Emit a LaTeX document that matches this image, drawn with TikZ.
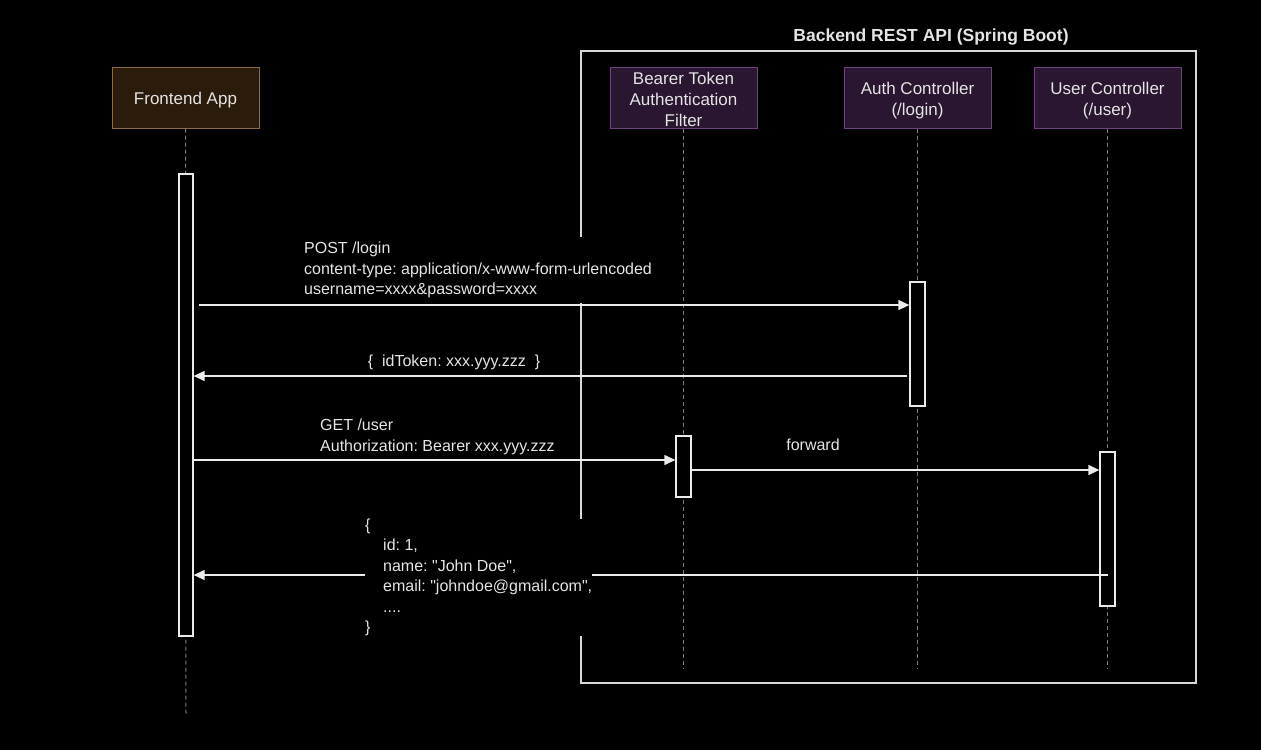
\documentclass[tikz,border=0pt]{standalone}
\usepackage{fontspec}
\setmainfont{Liberation Sans}
\usetikzlibrary{arrows.meta,calc}
\definecolor{txt}{RGB}{228,228,228}
\definecolor{linec}{RGB}{235,235,235}
\definecolor{framec}{RGB}{215,215,215}
\definecolor{lifec}{RGB}{120,125,150}
\definecolor{fefill}{RGB}{42,27,10}
\definecolor{fedraw}{RGB}{140,108,66}
\definecolor{befill}{RGB}{42,22,48}
\definecolor{bedraw}{RGB}{110,66,122}
\newcommand{\lblfont}{\fontsize{16}{20.5}\selectfont}
\newcommand{\boxfont}{\fontsize{17}{21}\selectfont}
\frenchspacing
\begin{document}
\begin{tikzpicture}[x=1pt,y=-1pt,
  participant/.style={rectangle, minimum width=147pt, minimum height=61pt, inner sep=0pt,
    line width=1pt},
  ptext/.style={text=txt, font=\boxfont, align=center, inner sep=0pt},
  fepart/.style={participant, fill=fefill, draw=fedraw},
  bepart/.style={participant, fill=befill, draw=bedraw},
  lifeline/.style={draw=lifec, line width=1pt, dash pattern=on 4pt off 3pt},
  actbox/.style={rectangle, draw=linec, fill=black, line width=1.3pt, inner sep=0pt, minimum width=14pt},
  msg/.style={draw=linec, line width=1.3pt, -{Triangle[length=11pt,width=10pt]}},
  lbl/.style={text=txt, font=\lblfont, align=left, fill=black, inner xsep=0pt},
  frame/.style={rectangle, draw=framec, line width=1.4pt, inner sep=0pt},
]
% background
\fill[black] (0,0) rectangle (1261,750);
\useasboundingbox (0,0) rectangle (1261,750);

% frame
\node[frame, minimum width=615pt, minimum height=632pt] (api) at (888.5,367) {};
\node[text=txt, font=\bfseries\fontsize{17.5}{20}\selectfont] (apititle) at (931,37) {Backend REST API (Spring Boot)};

% participants
\node[fepart] (fe) at (185.5,97.5) {};
\node[ptext] (fetext) at ([yshift=-3pt]fe.center) {Frontend App};
\node[bepart] (bt) at (683.5,97.5) {};
\node[ptext] (bttext) at ([yshift=-1.5pt]bt.center) {Bearer Token\\Authentication\\Filter};
\node[bepart] (ac) at (917.5,97.5) {};
\node[ptext] (actext) at ([yshift=-3pt]ac.center) {Auth Controller\\(/login)};
\node[bepart] (uc) at (1107.5,97.5) {};
\node[ptext] (uctext) at ([yshift=-3pt]uc.center) {User Controller\\(/user)};

% lifeline ends
\coordinate (feend) at (186,715);
\coordinate (btend) at (683.5,668);
\coordinate (acend) at (917.5,668);
\coordinate (ucend) at (1107.5,668);

\draw[lifeline] (fe.south) -- (feend);
\draw[lifeline] (bt.south) -- (btend);
\draw[lifeline] (ac.south) -- (acend);
\draw[lifeline] (uc.south) -- (ucend);

% activations
\node[actbox, minimum height=462pt] (feact) at (186,405) {};
\node[actbox, minimum height=61pt, minimum width=15pt] (btact) at (683.5,466.5) {};
\node[actbox, minimum height=124pt, minimum width=15pt] (acact) at (917.5,344) {};
\node[actbox, minimum height=154pt, minimum width=15pt] (ucact) at (1107.5,529) {};

% messages
\draw[msg] ([xshift=5pt]feact.east |- 0,305) -- (acact.west |- 0,305);
\draw[msg] ([xshift=-2pt]acact.west |- 0,376) -- (feact.east |- 0,376);
\draw[msg] (feact.east |- 0,460) -- (btact.west |- 0,460);
\draw[msg] (btact.east |- 0,470) -- (ucact.west |- 0,470);
\draw[msg] (ucact.center |- 0,575) -- (feact.east |- 0,575);

% labels
\node[lbl, anchor=north west, inner ysep=5pt] (postlbl) at (304,237)
  {POST /login\\content-type: application/x-www-form-urlencoded\\username=xxxx\&password=xxxx};
\node[lbl, inner ysep=2pt] (toklbl) at (454,362) {\{\ \ idToken: xxx.yyy.zzz\ \ \}};
\node[lbl, anchor=north west, inner ysep=2pt] (getlbl) at (320,417)
  {GET /user\\Authorization: Bearer xxx.yyy.zzz};
\node[lbl, inner ysep=2pt] (fwdlbl) at (813,445) {forward};
\node[lbl, anchor=north west, inner ysep=0pt] (jsonlbl) at (365,518.5)
  {\{\\\hspace*{18pt}id: 1,\\\hspace*{18pt}name: \textquotedbl John Doe\textquotedbl,\\\hspace*{18pt}email: \textquotedbl johndoe@gmail.com\textquotedbl,\\\hspace*{18pt}....\\\}};
\end{tikzpicture}
\end{document}
